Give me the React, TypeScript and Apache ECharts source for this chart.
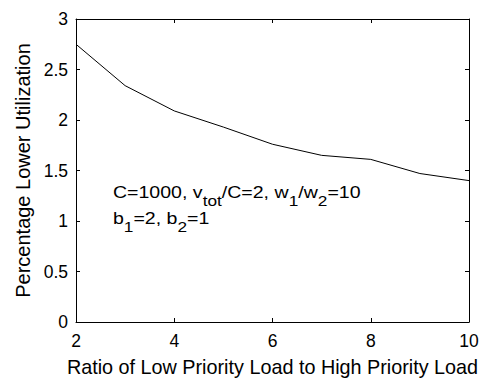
import React, { useEffect, useRef } from "react";
import * as echarts from "echarts";

const ratios = [2, 3, 4, 5, 6, 7, 8, 9, 10];
const lowerUtil = [2.75, 2.34, 2.09, 1.93, 1.76, 1.65, 1.61, 1.47, 1.40];
const xTicks = [2, 4, 6, 8, 10];
const yTicks = [0, 0.5, 1, 1.5, 2, 2.5, 3];
const noteLine1 = "{n|C=1000, v}{s|tot}{n|/C=2, w}{s|1}{n|/w}{s|2}{n|=10}";
const noteLine2 = "{n|b}{s|1}{n|=2, b}{s|2}{n|=1}";

const FONT = "'Liberation Sans', Arial, sans-serif";

export default function App() {
  const ref = useRef<HTMLDivElement>(null);
  useEffect(() => {
    if (!ref.current) return;
    const chart = echarts.init(ref.current, undefined, { renderer: "svg" });
    const axisCommon = {
      axisLine: { show: true, onZero: false, lineStyle: { color: "#000", width: 1 } },
      axisTick: { show: true, inside: true, length: 4, lineStyle: { color: "#000" } },
      splitLine: { show: false },
    };
    const base = { fontSize: 17, lineHeight: 32, fontFamily: FONT, color: "#000" };
    const sub = { fontSize: 15, lineHeight: 15, verticalAlign: "bottom", fontFamily: FONT, color: "#000" };
    chart.setOption({
      animation: false,
      backgroundColor: "#fff",
      grid: { left: 76, right: 15, top: 19, bottom: 55, containLabel: false },
      xAxis: [
        {
          type: "value",
          min: 2,
          max: 10,
          interval: 2,
          position: "bottom",
          name: "Ratio of Low Priority Load to High Priority Load",
          nameLocation: "middle",
          nameGap: 35,
          nameTextStyle: { fontSize: 19.8, color: "#000", fontFamily: FONT },
          axisLabel: {
            show: true,
            fontSize: 17.5,
            color: "#000",
            fontFamily: FONT,
            margin: 10,
            formatter: (v: number) => (xTicks.includes(v) ? String(v) : ""),
          },
          ...axisCommon,
        },
        {
          type: "value",
          min: 2,
          max: 10,
          interval: 2,
          position: "top",
          axisLabel: { show: false },
          ...axisCommon,
        },
      ],
      yAxis: [
        {
          type: "value",
          min: 0,
          max: 3,
          interval: 0.5,
          position: "left",
          name: "Percentage Lower Utilization",
          nameLocation: "middle",
          nameGap: 43,
          nameTextStyle: { fontSize: 20, color: "#000", fontFamily: FONT },
          axisLabel: {
            show: true,
            fontSize: 17.5,
            color: "#000",
            fontFamily: FONT,
            margin: 8,
            formatter: (v: number) => (yTicks.includes(v) ? String(v) : ""),
          },
          ...axisCommon,
        },
        {
          type: "value",
          min: 0,
          max: 3,
          interval: 0.5,
          position: "right",
          axisLabel: { show: false },
          ...axisCommon,
        },
      ],
      series: [
        {
          type: "line",
          data: ratios.map((r, i) => [r, lowerUtil[i]]),
          showSymbol: false,
          symbol: "none",
          lineStyle: { color: "#000", width: 1 },
          silent: true,
        },
      ],
      graphic: [
        {
          type: "text",
          x: 113,
          y: 176,
          scaleX: 1.15,
          style: {
            text: noteLine1,
            rich: { n: base, s: sub },
            fill: "#000",
            align: "left",
            verticalAlign: "top",
          },
        },
        {
          type: "text",
          x: 113,
          y: 202,
          scaleX: 1.15,
          style: {
            text: noteLine2,
            rich: { n: base, s: sub },
            fill: "#000",
            align: "left",
            verticalAlign: "top",
          },
        },
      ],
    });
    return () => chart.dispose();
  }, []);
  return (
    <div style={{ position: "absolute", left: 0, top: 0, width: 484, height: 382, overflow: "hidden" }}>
      <div ref={ref} style={{ width: 484, height: 382 }} />
    </div>
  );
}
